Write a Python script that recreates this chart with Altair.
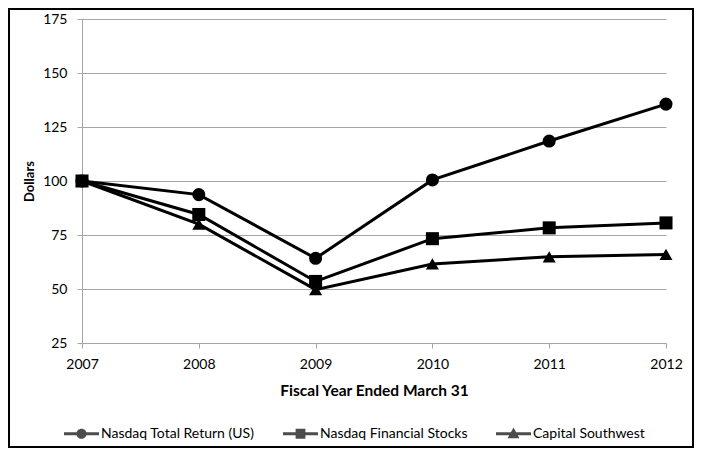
import altair as alt
import pandas as pd

years = [2007, 2008, 2009, 2010, 2011, 2012]
series_names = ["Nasdaq Total Return (US)", "Nasdaq Financial Stocks", "Capital Southwest"]
nasdaq_total = [100, 93.7, 64.2, 100.5, 118.5, 135.6]
nasdaq_fin = [100, 84.5, 53.5, 73.3, 78.3, 80.6]
capital_sw = [100, 80.0, 49.7, 61.6, 64.9, 66.0]
y_ticks = [25, 50, 75, 100, 125, 150, 175]

rows = []
for name, vals in zip(series_names, [nasdaq_total, nasdaq_fin, capital_sw]):
    for yr, v in zip(years, vals):
        rows.append({"year": yr, "value": v, "series": name})
df = pd.DataFrame(rows)

W, H = 584, 324
PAD = {"left": 74, "top": 11, "right": 28, "bottom": 105}
GRAY = "#a6a6a6"
FONT = "Lato"

x_enc = alt.X("year:Q", scale=alt.Scale(domain=[2007, 2012], nice=False, zero=False),
              axis=alt.Axis(values=years, format="d", grid=False, title="Fiscal Year Ended March 31",
                            labelPadding=9, titlePadding=12, tickSize=5, labelFlush=False,
                            titleFontSize=15.5))
y_enc = alt.Y("value:Q", scale=alt.Scale(domain=[25, 175], nice=False, zero=False),
              axis=alt.Axis(values=y_ticks, grid=True, title="Dollars", labelPadding=10,
                            titlePadding=6, tickSize=5, titleFontSize=13, labelFlush=False))

base = alt.Chart(df)

lines = base.mark_line(color="black", strokeWidth=3).encode(
    x=x_enc, y=y_enc, detail="series:N"
)

points = base.mark_point(filled=True, color="black", size=170, opacity=1).encode(
    x=x_enc, y=y_enc,
    shape=alt.Shape("series:N", scale=alt.Scale(domain=series_names,
                                                 range=["circle", "square", "triangle-up"]),
                    legend=None)
)

line_bar = "M-1,-0.086H1V0.086H-1Z"
legend_paths = [
    line_bar + "M0.29,0A0.29,0.29 0 1,1 -0.29,0A0.29,0.29 0 1,1 0.29,0Z",
    line_bar + "M-0.28,-0.28H0.28V0.28H-0.28Z",
    line_bar + "M0,-0.36L0.34,0.26L-0.34,0.26Z",
]

legend_layer = base.transform_filter(alt.datum.value < 0).mark_point(
    filled=True, color="black"
).encode(
    x=x_enc, y=y_enc,
    shape=alt.Shape("series:N", scale=alt.Scale(domain=series_names, range=legend_paths),
                    legend=alt.Legend(title=None, orient="none", direction="horizontal",
                                      legendX=-18, legendY=397, symbolSize=1225,
                                      symbolStrokeWidth=0, symbolFillColor="black",
                                      labelOffset=2, columnPadding=28,
                                      labelFont=FONT, labelFontSize=14, labelColor="black"))
)

border = alt.Chart(pd.DataFrame({"a": [0]})).mark_rect(
    fillOpacity=0, stroke="black", strokeWidth=2
).encode(
    x=alt.value(-PAD["left"] + 1), x2=alt.value(W + PAD["right"] - 1),
    y=alt.value(-PAD["top"] + 1), y2=alt.value(H + PAD["bottom"] - 1)
)

chart = alt.layer(border, lines, points, legend_layer).resolve_scale(
    shape="independent"
).properties(
    width=W, height=H, padding=PAD, autosize=alt.AutoSizeParams(type="none")
).configure_view(stroke=None).configure_axis(
    labelFont=FONT, labelFontSize=14, labelColor="black",
    titleFont=FONT, titleFontSize=14, titleFontWeight="bold", titleColor="black",
    domainColor=GRAY, tickColor=GRAY, gridColor=GRAY, domainWidth=1, gridWidth=1
)

chart.save("out.html", embed_options={"renderer": "svg", "actions": False})
